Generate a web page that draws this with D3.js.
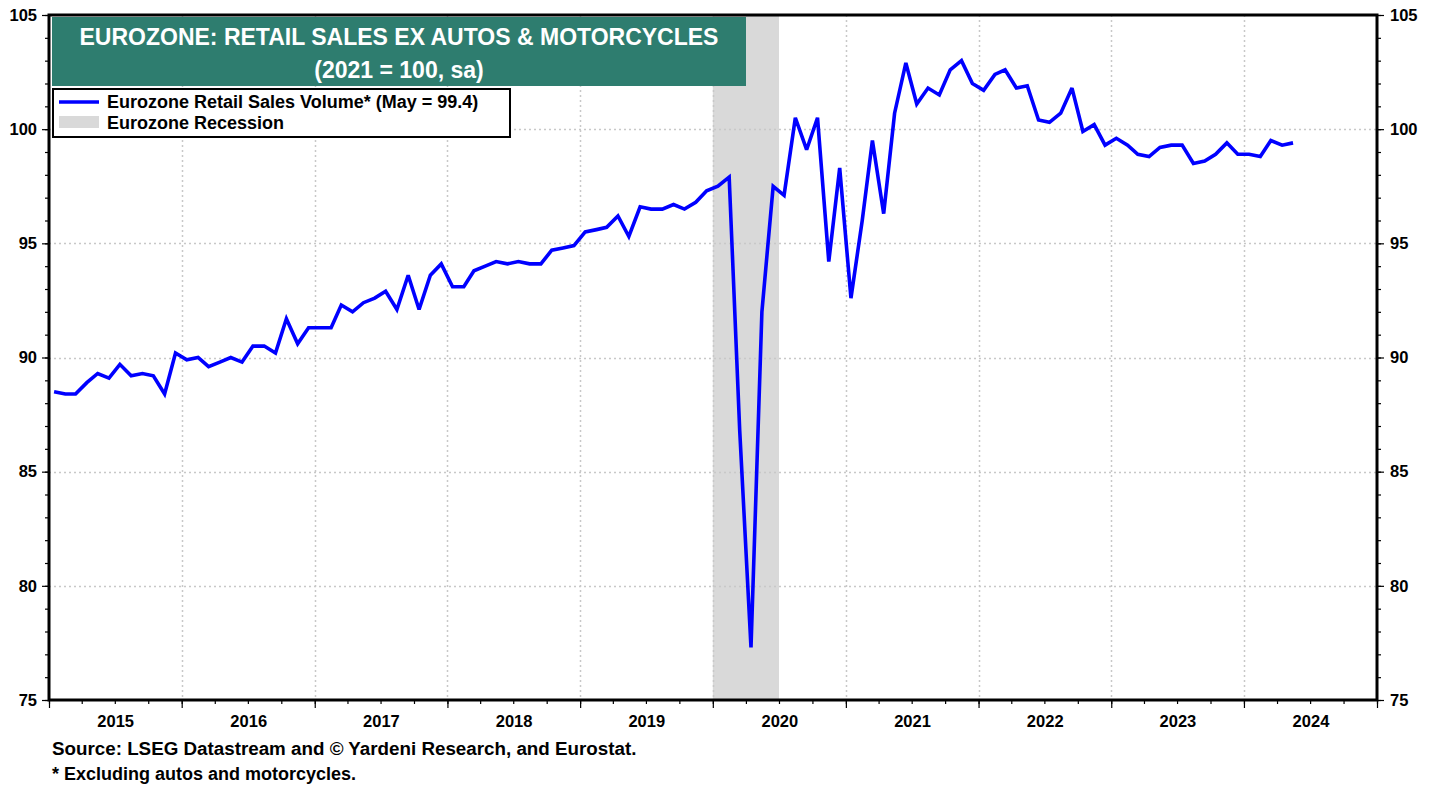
<!DOCTYPE html>
<html>
<head>
<meta charset="utf-8">
<script src="https://cdn.jsdelivr.net/npm/d3@7"></script>
<style>
  html, body { margin: 0; padding: 0; background: #fff; }
  svg text { font-family: "Liberation Sans", Arial, sans-serif; font-weight: bold; }
</style>
</head>
<body>
<svg id="chart" width="1438" height="787"></svg>
<script>
// ---- Data ----
const startYear = 2015;
const startMonth = 0; // January
const retailSales = [
  // 2015
  88.5, 88.4, 88.4, 88.9, 89.3, 89.1, 89.7, 89.2, 89.3, 89.2, 88.4, 90.2,
  // 2016
  89.9, 90.0, 89.6, 89.8, 90.0, 89.8, 90.5, 90.5, 90.2, 91.7, 90.6, 91.3,
  // 2017
  91.3, 91.3, 92.3, 92.0, 92.4, 92.6, 92.9, 92.1, 93.6, 92.1, 93.6, 94.1,
  // 2018
  93.1, 93.1, 93.8, 94.0, 94.2, 94.1, 94.2, 94.1, 94.1, 94.7, 94.8, 94.9,
  // 2019
  95.5, 95.6, 95.7, 96.2, 95.3, 96.6, 96.5, 96.5, 96.7, 96.5, 96.8, 97.3,
  // 2020
  97.5, 97.9, 86.8, 77.3, 92.0, 97.5, 97.1, 100.5, 99.1, 100.5, 94.2, 98.3,
  // 2021
  92.6, 96.0, 99.5, 96.3, 100.7, 102.9, 101.1, 101.8, 101.5, 102.6, 103.0, 102.0,
  // 2022
  101.7, 102.4, 102.6, 101.8, 101.9, 100.4, 100.3, 100.7, 101.8, 99.9, 100.2, 99.3,
  // 2023
  99.6, 99.3, 98.9, 98.8, 99.2, 99.3, 99.3, 98.5, 98.6, 98.9, 99.4, 98.9,
  // 2024
  98.9, 98.8, 99.5, 99.3, 99.4
];
const recessions = [
  { start: "2020-01-01", end: "2020-07-01" }
];
const yTicks = [75, 80, 85, 90, 95, 100, 105];
const yearLabels = [2015, 2016, 2017, 2018, 2019, 2020, 2021, 2022, 2023, 2024];
const titleLines = ["EUROZONE: RETAIL SALES EX AUTOS & MOTORCYCLES", "(2021 = 100, sa)"];
const legendItems = ["Eurozone Retail Sales Volume* (May = 99.4)", "Eurozone Recession"];
const footnotes = ["Source: LSEG Datastream and \u00A9 Yardeni Research, and Eurostat.", "* Excluding autos and motorcycles."];

// ---- Build ----
const data = retailSales.map((v, i) => ({ date: new Date(startYear, startMonth + i, 15), value: v }));

const svg = d3.select("#chart");
const L = 49, R = 1377, T = 15, B = 700;

const x = d3.scaleTime()
  .domain([new Date(2015, 0, 1), new Date(2025, 0, 1)])
  .range([L, R]);
const y = d3.scaleLinear().domain([75, 105]).range([B, T]);

// recession shading
svg.append("g").selectAll("rect").data(recessions).join("rect")
  .attr("x", d => x(new Date(d.start)))
  .attr("width", d => x(new Date(d.end)) - x(new Date(d.start)))
  .attr("y", T).attr("height", B - T)
  .attr("fill", "#d9d9d9");

// grid
const grid = svg.append("g").attr("stroke", "#c8c8c8").attr("stroke-width", 1.5)
  .attr("stroke-dasharray", "2,3");
grid.selectAll("line.h").data(yTicks.filter(t => t > 75 && t < 105)).join("line")
  .attr("class", "h")
  .attr("x1", L).attr("x2", R)
  .attr("y1", d => Math.round(y(d)) + 0.5).attr("y2", d => Math.round(y(d)) + 0.5);
grid.selectAll("line.v").data(yearLabels.slice(1)).join("line")
  .attr("class", "v")
  .attr("x1", d => Math.round(x(new Date(d, 0, 1))) + 0.5)
  .attr("x2", d => Math.round(x(new Date(d, 0, 1))) + 0.5)
  .attr("y1", T).attr("y2", B);

// line
const line = d3.line().x(d => x(d.date)).y(d => y(d.value));
svg.append("path").datum(data)
  .attr("d", line)
  .attr("fill", "none")
  .attr("stroke", "#0000ff")
  .attr("stroke-width", 3.6)
  .attr("stroke-linejoin", "miter")
  .attr("stroke-miterlimit", 3);

// axes
const minorY = d3.range(75, 106, 1);
const yLeft = d3.axisLeft(y).tickValues(yTicks).tickSize(7).tickPadding(5).tickFormat(d3.format("d"));
const yRight = d3.axisRight(y).tickValues(yTicks).tickSize(7).tickPadding(6).tickFormat(d3.format("d"));
const yLeftMinor = d3.axisLeft(y).tickValues(minorY).tickSize(4).tickFormat("");
const yRightMinor = d3.axisRight(y).tickValues(minorY).tickSize(4).tickFormat("");

function styleAxis(g) {
  g.select(".domain").remove();
  g.selectAll("line").attr("stroke", "#000").attr("stroke-width", 1.2);
  g.selectAll("text").attr("font-size", 16.5).attr("font-weight", "bold").attr("fill", "#000")
    .attr("font-family", "Liberation Sans, Arial, sans-serif");
}
svg.append("g").attr("transform", `translate(${L},0)`).call(yLeftMinor).call(styleAxis);
svg.append("g").attr("transform", `translate(${L},0)`).call(yLeft).call(styleAxis);
svg.append("g").attr("transform", `translate(${R},0)`).call(yRightMinor).call(styleAxis);
svg.append("g").attr("transform", `translate(${R},0)`).call(yRight).call(styleAxis);

// x axis: quarter ticks, year ticks, year labels centered
const quarters = d3.timeMonth.every(3).range(new Date(2015, 0, 1), new Date(2025, 0, 2));
const xMinor = d3.axisBottom(x).tickValues(quarters).tickSize(4).tickFormat("");
const years = yearLabels.map(yy => new Date(yy, 0, 1)).concat([new Date(2025, 0, 1)]);
const xMajor = d3.axisBottom(x).tickValues(years).tickSize(8).tickFormat("");
svg.append("g").attr("transform", `translate(0,${B})`).call(xMinor).call(styleAxis);
svg.append("g").attr("transform", `translate(0,${B})`).call(xMajor).call(styleAxis);
const xLabels = d3.axisBottom(x).tickValues(yearLabels.map(yy => new Date(yy, 6, 2)))
  .tickSize(0).tickPadding(15).tickFormat(d3.timeFormat("%Y"));
svg.append("g").attr("transform", `translate(0,${B})`).call(xLabels).call(styleAxis);

// frame
svg.append("rect").attr("x", L).attr("y", T).attr("width", R - L).attr("height", B - T)
  .attr("fill", "none").attr("stroke", "#000").attr("stroke-width", 3);

// title box
const tb = svg.append("g");
tb.append("rect").attr("x", 52).attr("y", 17).attr("width", 694).attr("height", 69)
  .attr("fill", "#2e7d6f");
tb.selectAll("text").data(titleLines).join("text")
  .attr("x", 399).attr("y", (d, i) => 45 + i * 33)
  .attr("text-anchor", "middle").attr("fill", "#fff").attr("font-size", 23)
  .text(d => d);

// legend
const lg = svg.append("g");
lg.append("rect").attr("x", 53).attr("y", 89).attr("width", 457).attr("height", 48)
  .attr("fill", "#fff").attr("stroke", "#000").attr("stroke-width", 2);
lg.append("line").attr("x1", 59).attr("x2", 99).attr("y1", 102).attr("y2", 102)
  .attr("stroke", "#0000ff").attr("stroke-width", 3.6);
lg.append("rect").attr("x", 59).attr("y", 116).attr("width", 40).attr("height", 12)
  .attr("fill", "#d9d9d9");
lg.selectAll("text").data(legendItems).join("text")
  .attr("x", 107).attr("y", (d, i) => 108 + i * 21)
  .attr("font-size", 18).attr("fill", "#000")
  .text(d => d);

// footnotes
svg.append("g").selectAll("text").data(footnotes).join("text")
  .attr("x", 52).attr("y", (d, i) => 755 + i * 25)
  .attr("font-size", (d, i) => i === 0 ? 18.8 : 18)
  .attr("fill", "#000")
  .text(d => d);
</script>
</body>
</html>
